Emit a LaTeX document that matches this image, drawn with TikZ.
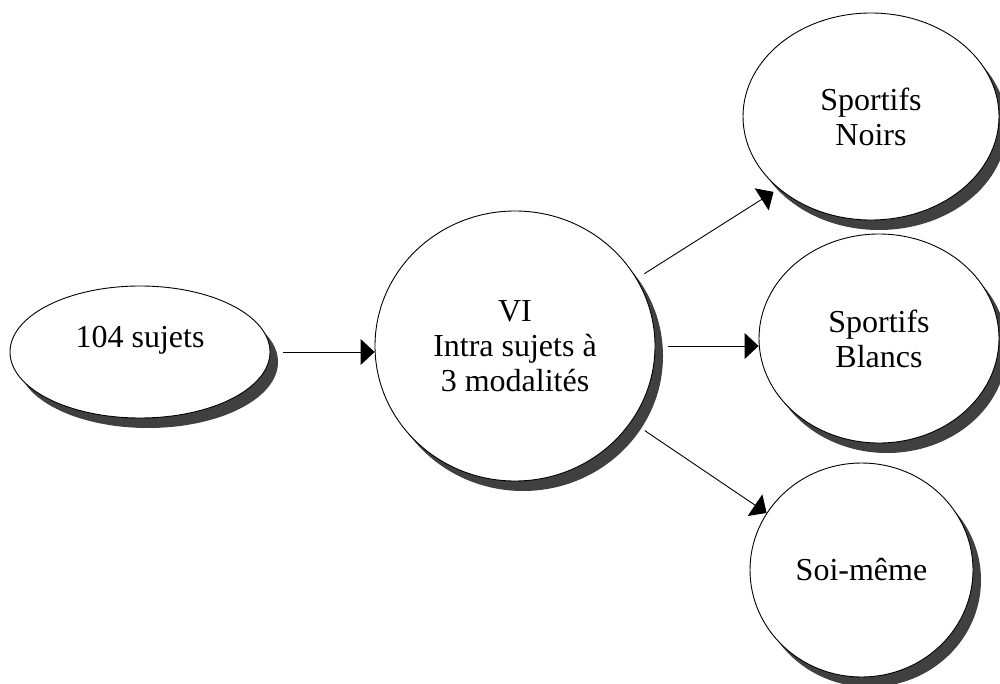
\documentclass[tikz,border=0pt]{standalone}
\usepackage{fontspec}
\setmainfont{Liberation Serif}
\usetikzlibrary{shapes.geometric, arrows.meta, shadows}

\begin{document}
\begin{tikzpicture}[x=1pt, y=-1pt,
       bub/.style={ellipse, draw, fill=white, line width=0.9pt, inner sep=0pt,
         align=center, font=\fontsize{32}{35}\selectfont,
         drop shadow={shadow xshift=8pt, shadow yshift=-10pt, fill=black!75, opacity=1}},
       txt/.style={inner sep=0pt, font=\fontsize{32}{35}\selectfont},
       ->/.style={-{Triangle[length=14pt, width=26pt]}, line width=0.9pt}]
     \useasboundingbox (0,0) rectangle (1000,684);
     \node[bub, minimum width=260pt, minimum height=132pt] (sujets) at (140,352) {};
     \node[txt] (sujetstxt) at ([yshift=12pt]sujets.center) {104 sujets};
     \node[bub, minimum width=280pt, minimum height=270pt] (vi) at (515,346)
       {VI\\Intra sujets à\\3 modalités};
     \node[bub, minimum width=256pt, minimum height=207pt] (noirs) at (871,116.5)
       {Sportifs\\Noirs};
     \node[bub, minimum width=240pt, minimum height=209pt] (blancs) at (879,338.5)
       {Sportifs\\Blancs};
     \node[bub, minimum width=223pt, minimum height=214pt] (soi) at (861.5,570)
       {Soi-même};
     \draw [->, shorten <=13pt] (sujets.east) to (sujets.east -| vi.west);
     \draw [->, shorten <=9pt, shorten >=6pt] (vi.29) to (noirs.218);
     \draw [->, shorten <=13pt] (vi.east) to (vi.east -| blancs.west);
     \draw [->, shorten <=16pt] (vi.-33) to (soi.149);
   \end{tikzpicture}
\end{document}
